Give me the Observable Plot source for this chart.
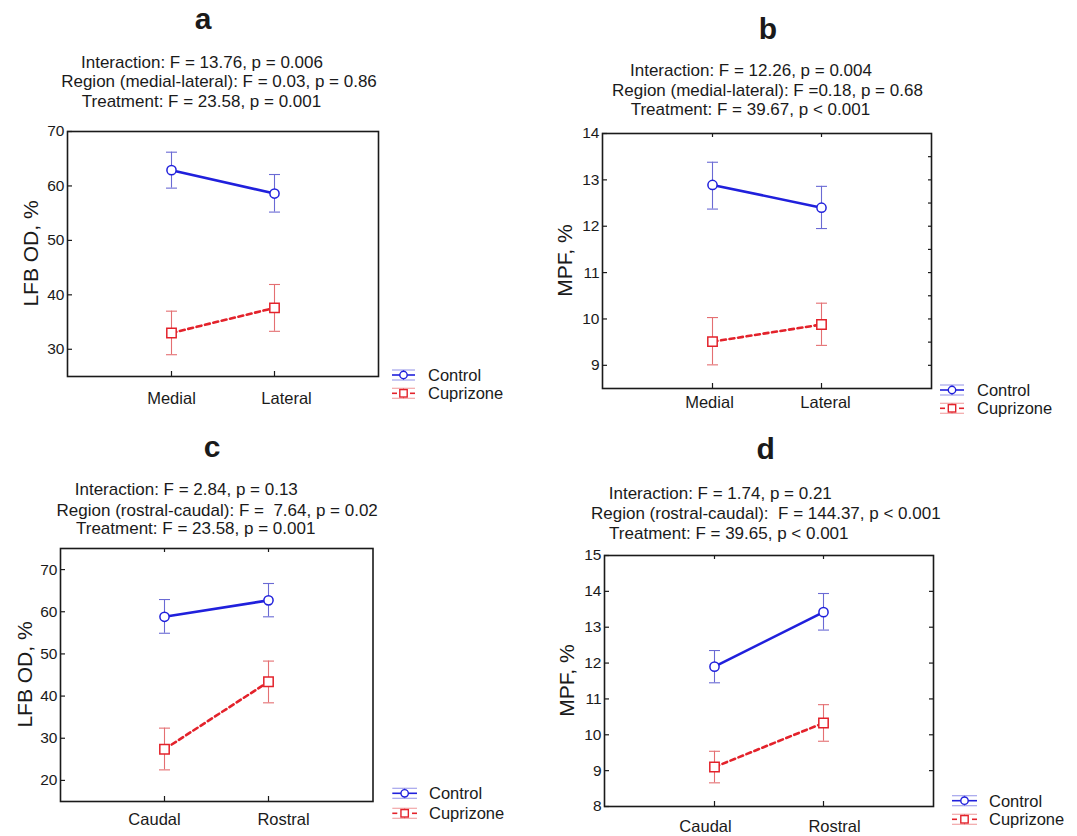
<!DOCTYPE html>
<html>
<head>
<meta charset="utf-8">
<script src="https://cdn.jsdelivr.net/npm/d3@7"></script>
<script src="https://cdn.jsdelivr.net/npm/@observablehq/plot@0.6"></script>
<style>
  body { margin: 0; background: #fff; }
  #root { position: relative; width: 1077px; height: 836px; overflow: hidden; background: #fff;
          font-family: "Liberation Sans", Arial, sans-serif; }
  #root svg { position: absolute; overflow: visible; }
  #root svg.panel g[aria-label="y-axis tick label"] { font-size: 15.5px !important; }
  #root svg.panel g[aria-label="x-axis tick label"] { font-size: 16.5px !important; }
</style>
</head>
<body>
<div id="root"></div>
<script>
// ---------------- data ----------------
const medLat = ["Medial", "Lateral"];
const cauRos = ["Caudal", "Rostral"];
const groups = ["Control", "Cuprizone"];

// panel a : LFB OD, medial / lateral
const aControlMean = [62.9, 58.6];
const aControlLow  = [59.6, 55.2];
const aControlHigh = [66.2, 62.1];
const aCupMean = [33.0, 37.6];
const aCupLow  = [29.0, 33.3];
const aCupHigh = [37.0, 41.9];
const aTicks = [30, 40, 50, 60, 70];
const aStats = ["Interaction: F = 13.76, p = 0.006",
                "Region (medial-lateral): F = 0.03, p = 0.86",
                "Treatment: F = 23.58, p = 0.001"];

// panel b : MPF, medial / lateral
const bControlMean = [12.89, 12.40];
const bControlLow  = [12.37, 11.95];
const bControlHigh = [13.38, 12.86];
const bCupMean = [9.51, 9.88];
const bCupLow  = [9.01, 9.43];
const bCupHigh = [10.03, 10.34];
const bTicks = [9, 10, 11, 12, 13, 14];
const bMinorTicks = [9, 9.5, 10, 10.5, 11, 11.5, 12, 12.5, 13, 13.5];
const bStats = ["Interaction: F = 12.26, p = 0.004",
                "Region (medial-lateral): F =0.18, p = 0.68",
                "Treatment: F = 39.67, p < 0.001"];

// panel c : LFB OD, caudal / rostral
const cControlMean = [58.8, 62.7];
const cControlLow  = [54.9, 58.8];
const cControlHigh = [62.9, 66.7];
const cCupMean = [27.4, 43.4];
const cCupLow  = [22.5, 38.4];
const cCupHigh = [32.4, 48.3];
const cTicks = [20, 30, 40, 50, 60, 70];
const cStats = ["Interaction: F = 2.84, p = 0.13",
                "Region (rostral-caudal): F =  7.64, p = 0.02",
                "Treatment: F = 23.58, p = 0.001"];

// panel d : MPF, caudal / rostral
const dControlMean = [11.90, 13.42];
const dControlLow  = [11.45, 12.92];
const dControlHigh = [12.35, 13.94];
const dCupMean = [9.10, 10.33];
const dCupLow  = [8.66, 9.82];
const dCupHigh = [9.54, 10.84];
const dTicks = [8, 9, 10, 11, 12, 13, 14, 15];
const dMinorTicks = [9, 10, 11, 12, 13, 14];
const dStats = ["Interaction: F = 1.74, p = 0.21",
                "Region (rostral-caudal):  F = 144.37, p < 0.001",
                "Treatment: F = 39.65, p < 0.001"];

const titles = ["a", "b", "c", "d"];
const yLabels = ["LFB OD, %", "MPF, %", "LFB OD, %", "MPF, %"];

// ---------------- styles ----------------
const BLUE = "#2020dc", BLUE_ERR = "#6a6ad4", BLUE_LIGHT = "#a4a4ec";
const RED = "#e3222b", RED_ERR = "#e46f72", RED_LIGHT = "#f2a6a8";
const INK = "#1a1a1a";
const FONT = "'Liberation Sans', Arial, sans-serif";

const panels = [
  { cats: medLat, cm: aControlMean, cl: aControlLow, ch: aControlHigh, km: aCupMean, kl: aCupLow, kh: aCupHigh,
    ticks: aTicks, minor: [], domain: [25, 70], stats: aStats, title: titles[0], ylab: yLabels[0],
    left: 67, right: 378, top: 131, bottom: 376, xPad: 15.6, xdx: [0, 12], topTicks: false,
    titlePos: [203, 29], statPos: [[202, 67.7], [219, 87.3], [201.5, 106.7]], ylabPos: [37.5, 253.5],
    leg: { x0: 392, w: 23, yC: 375, yK: 393.3, tx: 428 } },
  { cats: medLat, cm: bControlMean, cl: bControlLow, ch: bControlHigh, km: bCupMean, kl: bCupLow, kh: bCupHigh,
    ticks: bTicks, minor: bMinorTicks, minorSize: 3, domain: [8.5, 14], stats: bStats, title: titles[1], ylab: yLabels[1],
    left: 602, right: 931, top: 133, bottom: 388, xPad: 7.6, xdx: [-3, 4], topTicks: true,
    titlePos: [768, 39], statPos: [[751, 76], [767.4, 95.7], [750.4, 115]], ylabPos: [572, 260.5],
    leg: { x0: 940, w: 24, yC: 390, yK: 408.3, tx: 977 } },
  { cats: cauRos, cm: cControlMean, cl: cControlLow, ch: cControlHigh, km: cCupMean, kl: cCupLow, kh: cCupHigh,
    ticks: cTicks, minor: [], domain: [15, 75], stats: cStats, title: titles[2], ylab: yLabels[2],
    left: 60, right: 372.5, top: 548, bottom: 801, xPad: 11.6, xdx: [-10, 15], topTicks: true,
    titlePos: [212, 457], statPos: [[186.3, 495], [217.2, 515.7], [195.7, 534.3]], ylabPos: [32, 674.5],
    leg: { x0: 392.3, w: 24.7, yC: 793.3, yK: 813.3, tx: 429 } },
  { cats: cauRos, cm: dControlMean, cl: dControlLow, ch: dControlHigh, km: dCupMean, kl: dCupLow, kh: dCupHigh,
    ticks: dTicks, minor: dMinorTicks, minorSize: 4, domain: [8, 15], stats: dStats, title: titles[3], ylab: yLabels[3],
    left: 604, right: 933, top: 555, bottom: 806, xPad: 14.2, xdx: [-9, 11], topTicks: true,
    titlePos: [765.6, 459], statPos: [[720.3, 499.3], [765.8, 519.3], [728.8, 539]], ylabPos: [573.5, 680.5],
    leg: { x0: 952, w: 25, yC: 800.7, yK: 819.3, tx: 989 } }
];

const root = document.getElementById("root");

// custom horizontal cap symbol for error bars
const capSymbol = { draw(ctx) { ctx.moveTo(-5.5, 0); ctx.lineTo(5.5, 0); } };

for (const p of panels) {
  const fw = p.right - p.left, fh = p.bottom - p.top;
  const mL = 45, mR = 6, mT = 6, mB = 40;
  const ctrl = p.cats.map((c, i) => ({ group: groups[0], cat: c, mean: p.cm[i], lo: p.cl[i], hi: p.ch[i] }));
  const cup  = p.cats.map((c, i) => ({ group: groups[1], cat: c, mean: p.km[i], lo: p.kl[i], hi: p.kh[i] }));

  const marks = [
    // error bars
    Plot.ruleX(ctrl, { x: "cat", y1: "lo", y2: "hi", stroke: BLUE_ERR, strokeWidth: 1.1 }),
    Plot.dot(ctrl, { x: "cat", y: "lo", symbol: capSymbol, fill: "none", stroke: BLUE_ERR, strokeWidth: 1.1 }),
    Plot.dot(ctrl, { x: "cat", y: "hi", symbol: capSymbol, fill: "none", stroke: BLUE_ERR, strokeWidth: 1.1 }),
    Plot.ruleX(cup, { x: "cat", y1: "lo", y2: "hi", stroke: RED_ERR, strokeWidth: 1.1 }),
    Plot.dot(cup, { x: "cat", y: "lo", symbol: capSymbol, fill: "none", stroke: RED_ERR, strokeWidth: 1.1 }),
    Plot.dot(cup, { x: "cat", y: "hi", symbol: capSymbol, fill: "none", stroke: RED_ERR, strokeWidth: 1.1 }),
    // mean lines
    Plot.line(ctrl, { x: "cat", y: "mean", stroke: BLUE, strokeWidth: 2.6 }),
    Plot.line(cup, { x: "cat", y: "mean", stroke: RED, strokeWidth: 2.6, strokeDasharray: "5,3.6" }),
    // markers
    Plot.dot(ctrl, { x: "cat", y: "mean", r: 4.6, fill: "white", stroke: BLUE, strokeWidth: 1.5 }),
    Plot.dot(cup, { x: "cat", y: "mean", r: 5.3, symbol: "square", fill: "white", stroke: RED, strokeWidth: 1.5 }),
    // frame
    Plot.frame({ stroke: INK, strokeWidth: 1.6 }),
    // inward ticks
    Plot.tickY(p.ticks, { y: d => d, insetRight: fw - 5, stroke: INK, strokeWidth: 1.2 }),
    Plot.tickX(p.cats, { x: d => d, insetTop: fh - 5, stroke: INK, strokeWidth: 1.2 }),
    // axes
    Plot.axisY(p.ticks, { tickSize: 0, tickPadding: 3, fontSize: 15.5, fill: INK, label: null }),
    Plot.axisX([p.cats[0]], { tickSize: 0, tickPadding: p.xPad, dx: p.xdx[0], fontSize: 16.5, fill: INK, label: null }),
    Plot.axisX([p.cats[1]], { tickSize: 0, tickPadding: p.xPad, dx: p.xdx[1], fontSize: 16.5, fill: INK, label: null })
  ];
  if (p.topTicks) marks.push(Plot.tickX(p.cats, { x: d => d, insetBottom: fh - 4, stroke: INK, strokeWidth: 1.2 }));
  if (p.minor.length) marks.push(Plot.tickY(p.minor, { y: d => d, insetLeft: fw - p.minorSize, stroke: INK, strokeWidth: 1.2 }));

  const chart = Plot.plot({
    width: fw + mL + mR,
    height: fh + mT + mB,
    marginLeft: mL, marginRight: mR, marginTop: mT, marginBottom: mB,
    style: { fontFamily: FONT, fontSize: "15.5px", color: INK, background: "transparent", overflow: "visible" },
    x: { type: "point", domain: p.cats, padding: 1 },
    y: { domain: p.domain },
    marks
  });
  chart.classList.add("panel");
  chart.style.left = (p.left - mL) + "px";
  chart.style.top = (p.top - mT) + "px";
  root.appendChild(chart);
}

// ---------------- overlay text: titles, statistics, axis labels, legends ----------------
const ov = d3.select(root).append("svg")
  .attr("width", 1077).attr("height", 836)
  .style("left", "0px").style("top", "0px").style("pointer-events", "none")
  .attr("font-family", FONT).attr("fill", INK);

for (const p of panels) {
  ov.append("text").attr("x", p.titlePos[0]).attr("y", p.titlePos[1])
    .attr("text-anchor", "middle").attr("font-size", 30).attr("font-weight", "bold").text(p.title);
  p.stats.forEach((s, i) => {
    ov.append("text").attr("x", p.statPos[i][0]).attr("y", p.statPos[i][1])
      .attr("text-anchor", "middle").attr("font-size", 17)
      .style("white-space", "pre").text(s);
  });
  ov.append("text").attr("transform", `translate(${p.ylabPos[0]},${p.ylabPos[1]}) rotate(-90)`)
    .attr("text-anchor", "middle").attr("font-size", 21).text(p.ylab);

  // legend
  const L = p.leg, cx = L.x0 + L.w / 2;
  const g = ov.append("g");
  // Control
  g.append("line").attr("x1", L.x0).attr("x2", L.x0 + L.w).attr("y1", L.yC - 5).attr("y2", L.yC - 5).attr("stroke", BLUE_LIGHT).attr("stroke-width", 1.2);
  g.append("line").attr("x1", L.x0).attr("x2", L.x0 + L.w).attr("y1", L.yC + 5).attr("y2", L.yC + 5).attr("stroke", BLUE_LIGHT).attr("stroke-width", 1.2);
  g.append("line").attr("x1", cx).attr("x2", cx).attr("y1", L.yC - 5).attr("y2", L.yC + 5).attr("stroke", BLUE_ERR).attr("stroke-width", 1);
  g.append("line").attr("x1", L.x0).attr("x2", L.x0 + L.w).attr("y1", L.yC).attr("y2", L.yC).attr("stroke", BLUE).attr("stroke-width", 1.6);
  g.append("circle").attr("cx", cx).attr("cy", L.yC).attr("r", 3.7).attr("fill", "white").attr("stroke", BLUE).attr("stroke-width", 1.4);
  g.append("text").attr("x", L.tx).attr("y", L.yC + 5.8).attr("font-size", 16.5).text(groups[0]);
  // Cuprizone
  g.append("line").attr("x1", L.x0).attr("x2", L.x0 + L.w).attr("y1", L.yK - 5).attr("y2", L.yK - 5).attr("stroke", RED_LIGHT).attr("stroke-width", 1.2);
  g.append("line").attr("x1", L.x0).attr("x2", L.x0 + L.w).attr("y1", L.yK + 5).attr("y2", L.yK + 5).attr("stroke", RED_LIGHT).attr("stroke-width", 1.2);
  g.append("line").attr("x1", cx).attr("x2", cx).attr("y1", L.yK - 5).attr("y2", L.yK + 5).attr("stroke", RED_ERR).attr("stroke-width", 1);
  g.append("line").attr("x1", L.x0).attr("x2", L.x0 + 5).attr("y1", L.yK).attr("y2", L.yK).attr("stroke", RED).attr("stroke-width", 1.6);
  g.append("line").attr("x1", L.x0 + L.w - 5).attr("x2", L.x0 + L.w).attr("y1", L.yK).attr("y2", L.yK).attr("stroke", RED).attr("stroke-width", 1.6);
  g.append("rect").attr("x", cx - 3.7).attr("y", L.yK - 3.7).attr("width", 7.4).attr("height", 7.4).attr("fill", "white").attr("stroke", RED).attr("stroke-width", 1.4);
  g.append("text").attr("x", L.tx).attr("y", L.yK + 5.8).attr("font-size", 16.5).text(groups[1]);
}
</script>
</body>
</html>
